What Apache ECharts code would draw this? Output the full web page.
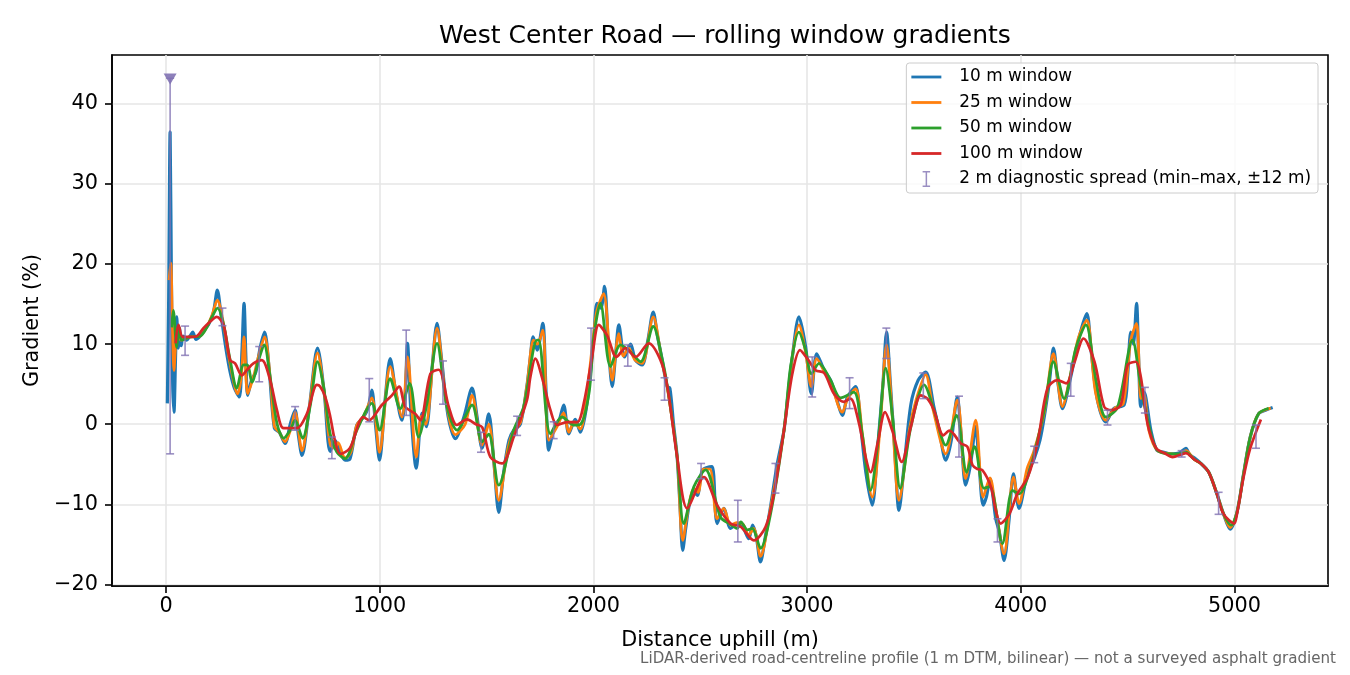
<!DOCTYPE html>
<html>
<head>
<meta charset="utf-8">
<script src="https://cdn.jsdelivr.net/npm/echarts@6/dist/echarts.min.js"></script>
<style>
  html, body { margin: 0; padding: 0; background: #fff; }
  #chart { width: 1350px; height: 675px; }
</style>
</head>
<body>
<div id="chart"></div>
<script>
// West Center Road — rolling window gradients

// 10 m window
const dist10 = [6, 12, 19, 25, 31, 37, 44, 50, 57, 63, 71, 80, 95, 112, 125, 140, 159, 180, 200, 222,
  240, 258, 280, 300, 320, 343, 355, 365, 374, 382, 400, 420, 440, 461, 482, 507, 530, 557, 583, 604,
  620, 636, 670, 709, 740, 768, 791, 815, 838, 861, 893, 924, 945, 963, 980, 999, 1025, 1049, 1075, 1104,
  1118, 1130, 1145, 1171, 1198, 1218, 1245, 1268, 1290, 1320, 1354, 1395, 1432, 1455, 1479, 1510, 1535, 1557, 1580, 1605,
  1627, 1658, 1690, 1705, 1718, 1737, 1763, 1777, 1791, 1814, 1840, 1861, 1885, 1915, 1939, 1970, 2002, 2017, 2035, 2052,
  2070, 2088, 2105, 2119, 2146, 2174, 2197, 2228, 2255, 2280, 2300, 2322, 2345, 2358, 2375, 2392, 2405, 2418, 2432, 2447,
  2470, 2486, 2509, 2532, 2556, 2579, 2610, 2642, 2676, 2704, 2727, 2745, 2762, 2782, 2805, 2829, 2860, 2892, 2910, 2931,
  2962, 2993, 3020, 3045, 3080, 3110, 3140, 3165, 3188, 3227, 3250, 3275, 3305, 3330, 3355, 3372, 3390, 3410, 3430, 3455,
  3486, 3520, 3555, 3594, 3620, 3649, 3675, 3703, 3720, 3742, 3765, 3789, 3805, 3824, 3840, 3856, 3870, 3883, 3900, 3922,
  3945, 3966, 3992, 4031, 4063, 4090, 4110, 4135, 4153, 4175, 4195, 4234, 4274, 4309, 4330, 4359, 4398, 4437, 4484, 4500,
  4515, 4527, 4542, 4552, 4562, 4577, 4609, 4637, 4670, 4700, 4742, 4773, 4790, 4812, 4843, 4880, 4918, 4949, 4980, 5012,
  5043, 5074, 5113, 5150, 5179];
const grad10 = [2.6, 15, 36.5, 18, 5, 1.5, 8, 13.4, 9.5, 12, 9.8, 11, 10.5, 11, 11.5, 10.6, 11.0, 11.8, 12.5, 14.0,
  16.75, 13.5, 9.5, 6.5, 4.5, 3.4, 9.0, 15.1, 8.0, 3.6, 5.5, 6.5, 9.5, 11.5, 7.0, -0.5, -1.0, -2.4, 0.2, 1.75,
  -1.5, -3.9, 2.0, 9.5, 4.0, -3.4, -2.0, -3.5, -4.5, -4.3, -0.1, 0.9, 2.0, 4.25, 0.0, -4.5, 3.0, 8.2, 4.0, 0.5,
  3.0, 10.1, 2.0, -5.5, 1.4, -0.3, 7.0, 12.6, 8.0, 1.0, -1.8, 1.0, 4.5, 1.0, -3.0, 1.3, -5.0, -11.0, -6.0, -2.0,
  -0.75, 0.0, 5.0, 8.4, 10.9, 9.25, 12.6, 5.0, -3.25, -0.75, 0.5, 2.4, -1.2, 0.6, -1.0, 2.6, 10.9, 15.1, 14.5, 17.2,
  10.0, 4.7, 9.0, 12.4, 8.4, 10.0, 8.0, 7.4, 10.5, 14.0, 11.0, 8.0, 4.7, 4.5, 0, -4.1, -10.0, -15.75, -13.0, -10.3,
  -8.25, -8.9, -5.75, -5.4, -5.3, -12.4, -10.5, -13.0, -12.4, -13.1, -14.3, -12.6, -14, -17.2, -14.0, -10.3, -5.0, -0.75, 3.5, 8.4,
  13.4, 9.7, 3.8, 8.8, 6.75, 5.5, 3.0, 1.1, 3.3, 4.7, 0.0, -6.0, -10.1, -3.0, 5.0, 11.5, 5.0, -3.0, -10.75, -5.0,
  2.5, 5.5, 6.5, 2.1, -1.0, -4.5, -2.0, 3.4, -1.0, -7.6, -5.0, -0.3, -5.0, -10.1, -9.0, -6.8, -9.0, -11.8, -13.5, -17.0,
  -12.0, -6.2, -10.5, -6.2, -4.3, -2.0, 0.9, 5.5, 9.5, 5.0, 1.95, 5.9, 10.9, 13.8, 9.0, 3.0, 0.3, 2.0, 2.4, 6.0,
  11.5, 10.0, 15.1, 8.0, 2.2, 4.0, -0.75, -3.25, -3.5, -3.7, -3.6, -3.0, -3.8, -4.2, -4.9, -6.0, -8.7, -11.2, -13.1, -11.0,
  -6.2, -1.6, 1.3, 1.8, 2.1];

// 25 m window
const dist25 = [14, 22, 30, 37, 45, 55, 70, 112, 159, 191, 215, 240, 269, 300, 335, 352, 365, 382, 410, 433,
  461, 490, 507, 530, 557, 585, 604, 636, 670, 709, 740, 768, 790, 805, 838, 865, 893, 925, 963, 999,
  1049, 1104, 1130, 1171, 1195, 1215, 1268, 1310, 1354, 1400, 1432, 1479, 1510, 1557, 1600, 1627, 1660, 1690, 1720, 1738,
  1763, 1791, 1830, 1861, 1885, 1910, 1939, 1970, 2000, 2017, 2048, 2088, 2119, 2140, 2165, 2195, 2228, 2280, 2320, 2345,
  2392, 2418, 2447, 2470, 2490, 2515, 2545, 2579, 2610, 2642, 2670, 2700, 2727, 2750, 2782, 2829, 2892, 2931, 2962, 2993,
  3020, 3045, 3080, 3110, 3165, 3190, 3227, 3260, 3305, 3340, 3372, 3400, 3430, 3480, 3510, 3555, 3590, 3649, 3703, 3742,
  3789, 3824, 3856, 3880, 3922, 3966, 3992, 4030, 4060, 4110, 4153, 4195, 4230, 4270, 4309, 4350, 4398, 4440, 4480, 4515,
  4542, 4562, 4575, 4600, 4640, 4703, 4742, 4773, 4812, 4843, 4880, 4918, 4949, 4980, 5012, 5043, 5074, 5113, 5170];
const grad25 = [18.0, 20.1, 12, 6.7, 10, 12.0, 10.5, 10.9, 11.0, 12.2, 13.6, 15.5, 12.5, 7.5, 3.8, 6, 10.9, 3.8, 6.0, 8.5,
  10.9, 5.0, -0.3, -1.0, -2.2, -0.5, 1.5, -3.3, 2.0, 8.9, 4.0, -2.5, -3.0, -2.3, -4.2, -3.5, -0.1, 1.0, 3.3, -3.5,
  7.2, 0.9, 8.4, -4.1, 1.0, 0.0, 12.0, 3.0, -1.3, 0, 3.6, -2.6, 0, -9.5, -3.0, -0.8, 0.3, 5.0, 10.5, 10.0,
  11.75, -2.0, -0.3, 1.4, -1.0, 0.3, -0.6, 4.0, 11.0, 14.25, 16.3, 5.5, 11.3, 8.5, 9.5, 8.0, 7.6, 13.4, 8.0, 4.7,
  -4.1, -14.5, -10.0, -8.0, -8.5, -5.6, -5.6, -11.8, -10.5, -12.6, -12.3, -12.5, -13.8, -13.0, -16.5, -10.5, -0.75, 8.4, 12.4, 9.0,
  4.7, 8.2, 6.6, 5.2, 1.5, 3.2, 4.4, -1.5, -9.1, -1.0, 9.9, 0.5, -9.5, -0.5, 3.0, 6.2, 1.8, -3.7, 3.0, -6.8,
  0.5, -9.1, -6.7, -10.0, -16.2, -6.6, -9.9, -5.5, -3.5, 1.5, 8.8, 2.2, 5.8, 10.8, 13.0, 4.0, 0.5, 2.0, 2.6, 10.5,
  12.6, 3.2, 3.8, -0.8, -3.3, -3.7, -3.8, -3.3, -4.4, -4.9, -6.0, -8.7, -11.2, -12.9, -11.0, -6.2, -1.6, 1.3, 2.0];

// 50 m window
const dist50 = [26, 34, 50, 60, 72, 112, 159, 191, 215, 241, 269, 300, 331, 363, 381, 402, 433, 459, 487, 519,
  550, 581, 604, 639, 674, 709, 737, 768, 800, 838, 893, 963, 999, 1049, 1096, 1140, 1182, 1221, 1268, 1315,
  1362, 1432, 1479, 1510, 1557, 1627, 1674, 1736, 1744, 1799, 1853, 1909, 1940, 1980, 2002, 2033, 2080, 2127, 2174, 2221,
  2280, 2323, 2346, 2392, 2423, 2470, 2525, 2595, 2642, 2673, 2690, 2721, 2744, 2782, 2829, 2892, 2923, 2962, 2993, 3020,
  3056, 3110, 3157, 3219, 3258, 3297, 3333, 3368, 3400, 3436, 3486, 3548, 3594, 3649, 3700, 3747, 3784, 3828, 3856, 3914,
  3961, 3992, 4047, 4110, 4153, 4203, 4258, 4305, 4352, 4398, 4453, 4523, 4562, 4609, 4640, 4703, 4742, 4773, 4812, 4843,
  4880, 4918, 4949, 4985, 5012, 5043, 5074, 5113, 5160];
const grad50 = [12.1, 14.2, 9.6, 12.1, 10.5, 10.9, 11.0, 12.1, 13.4, 14.5, 12.5, 8.0, 4.5, 7.4, 7.4, 5.25, 8.0, 9.9, 5.9, 0.1,
  -1.75, -0.75, 0.5, -1.75, 2.2, 7.8, 4.7, -1.2, -3.5, -4.3, -0.75, 2.6, -0.75, 5.7, 1.95, 5.1, -1.6, 2.6, 10.1, 2.2,
  -0.75, 2.4, -2.2, -1.25, -7.6, -0.75, 2.2, 10.5, 10.5, -1.2, 0.9, -0.1, 0, 4.0, 10.9, 15.1, 7.2, 9.9, 9.0, 7.8,
  12.2, 8.0, 4.7, -4.1, -12.4, -7.8, -5.7, -11.6, -12.5, -13.0, -12.2, -13.2, -13.0, -15.5, -11.2, -0.75, 7.2, 11.5, 9.25, 6.3,
  7.6, 5.5, 3.3, 4.0, -1.2, -8.25, -2.0, 7.0, 0.9, -8.0, -0.3, 4.9, 1.75, -2.6, 1.1, -6.0, -2.8, -8.0, -7.8, -14.9,
  -8.25, -8.7, -5.3, 1.75, 7.8, 3.2, 9.5, 12.4, 5.5, 0.9, 2.1, 10.5, 4.7, -1.2, -3.25, -3.7, -3.7, -3.5, -4.4, -4.9,
  -6.0, -8.7, -11.2, -12.6, -11.0, -6.2, -1.6, 1.3, 2.0];

// 100 m window
const dist100 = [45, 58, 78, 112, 144, 175, 206, 237, 269, 300, 323, 355, 378, 409, 448, 487, 519, 550, 612, 659,
  706, 721, 745, 768, 790, 815, 860, 923, 950, 1010, 1057, 1091, 1119, 1166, 1190, 1237, 1276, 1323, 1361, 1408,
  1450, 1480, 1518, 1572, 1627, 1689, 1705, 1728, 1767, 1799, 1830, 1877, 1924, 1955, 1994, 2025, 2064, 2108, 2150, 2198,
  2259, 2314, 2346, 2392, 2439, 2517, 2579, 2642, 2689, 2751, 2806, 2845, 2892, 2931, 2967, 3001, 3040, 3080, 3126, 3172,
  3203, 3243, 3274, 3297, 3330, 3365, 3400, 3443, 3486, 3532, 3563, 3594, 3638, 3666, 3720, 3750, 3774, 3797, 3821, 3860,
  3883, 3906, 3947, 3984, 4033, 4078, 4125, 4172, 4213, 4250, 4294, 4345, 4390, 4422, 4468, 4500, 4539, 4562, 4593, 4634,
  4672, 4711, 4750, 4773, 4812, 4843, 4880, 4918, 4949, 4999, 5012, 5043, 5074, 5124];
const grad100 = [10.1, 12.4, 10.9, 10.9, 11.0, 12.0, 12.8, 13.4, 12.4, 8.0, 7.6, 6.1, 6.75, 7.6, 8.0, 5.5, 1.75, -0.5, -0.5, 1.3,
  4.9, 4.7, 3.4, 1.0, -2.0, -3.7, -3.0, 0.9, 0.5, 2.4, 3.6, 4.7, 2.2, 1.3, 0.5, 6.3, 6.8, 2.2, -0.1, 0.6,
  0, -0.4, -4.1, -4.9, -1.6, 3.0, 5.9, 8.2, 5.1, 1.75, -0.1, 0.25, 0.25, 2.6, 8.4, 12.4, 11.1, 8.4, 9.5, 8.4,
  10.1, 8.0, 4.7, -4.1, -10.5, -6.6, -10.1, -12.4, -12.8, -14.5, -12.8, -8.7, -0.75, 6.3, 9.25, 8.2, 6.75, 6.4, 3.8, 2.8,
  3.2, 0.1, -4.1, -6.0, -2.4, 1.5, -0.9, -4.7, -0.3, 3.6, 3.2, 1.75, -1.4, -0.8, -2.4, -2.8, -5.1, -5.6, -5.75, -7.8,
  -10.75, -12.4, -11.2, -8.7, -6.6, -2.4, 4.5, 5.5, 5.1, 7.6, 10.7, 7.8, 2.2, 1.75, 2.4, 7.4, 7.8, 5.9, 0.1, -3.0,
  -3.6, -4.1, -3.8, -3.6, -4.4, -4.9, -6.0, -8.7, -11.2, -12.4, -11.2, -6.6, -3.0, 0.6];

// 2 m diagnostic spread (min–max, ±12 m)
const spreadDist = [19, 89, 264, 436, 604, 776, 951, 1124, 1296, 1474, 1643, 1814, 1989, 2161, 2333, 2504,
  2676, 2852, 3024, 3199, 3371, 3544, 3711, 3891, 4063, 4234, 4406, 4581, 4753, 4926, 5101];
const spreadMin = [-3.7, 8.6, 12.3, 5.3, -0.75, -4.3, 0.3, 1.1, 2.5, -3.5, -1.4, -1.8, 5.5, 7.25, 3.0, -6.8,
  -14.7, -8.6, 3.4, 1.95, 8.2, 3.2, -4.1, -14.7, -4.8, 3.5, -0.1, 1.4, -4.1, -11.25, -3.0];
const spreadMax = [43.2, 12.25, 14.5, 9.7, 2.2, -1.6, 5.7, 11.75, 7.9, -1.0, 1.0, 0.3, 12.0, 9.9, 5.8, -4.9,
  -9.5, -4.9, 8.4, 5.8, 12.0, 6.4, 3.5, -11.8, -2.75, 7.6, 1.75, 4.6, -3.3, -8.5, -0.1];
// 超出范围的标记 (▼)
const clippedDist = [19];
const clippedGrad = [43.1];

const xTicks = [0, 1000, 2000, 3000, 4000, 5000];
const yTicks = [-20, -10, 0, 10, 20, 30, 40];

const FONT = 'DejaVu Sans';
const COLORS = { w10: '#1f77b4', w25: '#ff7f0e', w50: '#2ca02c', w100: '#d62728', spread: '#8172b3' };
const LINE_ICON = 'path://M0,0H30V2.8H0Z';
const BAR_ICON = 'path://M0,0H7V1.4H4.2V13.6H7V15H0V13.6H2.8V1.4H0Z';

const pairs = (xs, ys) => xs.map((x, i) => [x, ys[i]]);
const minusSign = (v) => (v < 0 ? '\u2212' + Math.abs(v) : String(v));

function lineSeries(name, xs, ys, color, width) {
  return {
    name, type: 'line', data: pairs(xs, ys),
    showSymbol: false, symbol: 'none', smooth: 0.3,
    lineStyle: { color, width }, itemStyle: { color },
    emphasis: { disabled: true },
  };
}

function renderSpread(params, api) {
  const x = api.value(0);
  const lo = api.coord([x, api.value(1)]);
  const hi = api.coord([x, api.value(2)]);
  const cap = 4;
  const style = { stroke: COLORS.spread, lineWidth: 1.6, opacity: 0.8 };
  return {
    type: 'group',
    children: [
      { type: 'line', shape: { x1: lo[0], y1: lo[1], x2: hi[0], y2: hi[1] }, style },
      { type: 'line', shape: { x1: lo[0] - cap, y1: lo[1], x2: lo[0] + cap, y2: lo[1] }, style },
      { type: 'line', shape: { x1: hi[0] - cap, y1: hi[1], x2: hi[0] + cap, y2: hi[1] }, style },
    ],
  };
}

const chart = echarts.init(document.getElementById('chart'), null, { renderer: 'canvas' });

chart.setOption({
  animation: false,
  backgroundColor: '#fff',
  title: {
    text: 'West Center Road — rolling window gradients',
    left: 720, top: 19, textAlign: 'center',
    textStyle: { fontFamily: FONT, fontSize: 25, fontWeight: 'normal', color: '#000' },
  },
  grid: {
    left: 112, right: 22, top: 55, bottom: 89,
    show: true, borderColor: '#000', borderWidth: 1.6, backgroundColor: 'transparent',
  },
  legend: {
    orient: 'vertical', right: 32, top: 63,
    padding: [5, 7, 5, 5],
    itemWidth: 30, itemHeight: 16, itemGap: 7.5,
    backgroundColor: 'rgba(255,255,255,0.8)', borderColor: '#cccccc', borderWidth: 1, borderRadius: 3,
    selectedMode: false,
    textStyle: { fontFamily: FONT, fontSize: 16.9, color: '#000', lineHeight: 18, padding: [0, 0, 0, 13] },
    data: [
      { name: '10 m window', icon: LINE_ICON, itemStyle: { color: COLORS.w10 } },
      { name: '25 m window', icon: LINE_ICON, itemStyle: { color: COLORS.w25 } },
      { name: '50 m window', icon: LINE_ICON, itemStyle: { color: COLORS.w50 } },
      { name: '100 m window', icon: LINE_ICON, itemStyle: { color: COLORS.w100 } },
      { name: '2 m diagnostic spread (min–max, ±12 m)', icon: BAR_ICON, itemStyle: { color: COLORS.spread, opacity: 0.8 } },
    ],
  },
  xAxis: {
    type: 'value', min: -253, max: 5438,
    name: 'Distance uphill (m)', nameLocation: 'middle', nameGap: 44,
    nameTextStyle: { fontFamily: FONT, fontSize: 20.8, color: '#000' },
    axisLine: { show: true, onZero: false, lineStyle: { color: '#000', width: 1.6 } },
    axisTick: { show: true, inside: false, length: 7, customValues: xTicks, lineStyle: { color: '#000', width: 1.6 } },
    axisLabel: { customValues: xTicks, margin: 10, fontFamily: FONT, fontSize: 20.8, color: '#000', formatter: (v) => String(v) },
    splitLine: { show: true, lineStyle: { color: '#e6e6e6', width: 1.6 } },
  },
  yAxis: {
    type: 'value', min: -20.2, max: 46.1,
    name: 'Gradient (%)', nameLocation: 'middle', nameGap: 66,
    nameTextStyle: { fontFamily: FONT, fontSize: 20.8, color: '#000' },
    axisLine: { show: true, onZero: false, lineStyle: { color: '#000', width: 1.6 } },
    axisTick: { show: true, inside: false, length: 7, customValues: yTicks, lineStyle: { color: '#000', width: 1.6 } },
    axisLabel: { customValues: yTicks, margin: 14, fontFamily: FONT, fontSize: 20.8, color: '#000', formatter: minusSign },
    splitLine: { show: true, lineStyle: { color: '#e6e6e6', width: 1.6 } },
  },
  graphic: [{
    type: 'text', right: 14, top: 652,
    style: {
      text: 'LiDAR-derived road-centreline profile (1 m DTM, bilinear) — not a surveyed asphalt gradient',
      fontFamily: FONT, fontSize: 15.1, fill: '#666',
    },
  }],
  series: [
    lineSeries('10 m window', dist10, grad10, COLORS.w10, 3.2),
    lineSeries('25 m window', dist25, grad25, COLORS.w25, 2.8),
    lineSeries('50 m window', dist50, grad50, COLORS.w50, 2.8),
    lineSeries('100 m window', dist100, grad100, COLORS.w100, 2.7),
    {
      name: '2 m diagnostic spread (min–max, ±12 m)', type: 'custom',
      data: spreadDist.map((x, i) => [x, spreadMin[i], spreadMax[i]]),
      encode: { x: 0, y: [1, 2] },
      renderItem: renderSpread, itemStyle: { color: COLORS.spread },
      z: 5, silent: true,
    },
    {
      name: 'clipped', type: 'scatter',
      data: pairs(clippedDist, clippedGrad),
      symbol: 'triangle', symbolRotate: 180, symbolSize: [13, 11],
      itemStyle: { color: COLORS.spread, opacity: 0.9 },
      z: 6, silent: true,
    },
  ],
});
</script>
</body>
</html>
